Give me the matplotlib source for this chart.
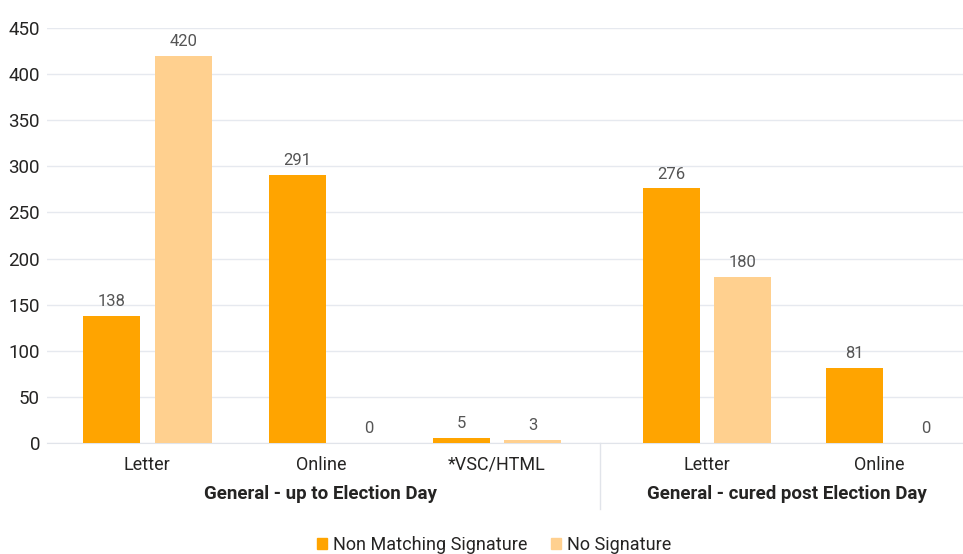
import matplotlib.pyplot as plt
import matplotlib.transforms as mtransforms
from matplotlib.patches import Patch

plt.rcParams['font.family'] = ['Roboto', 'DejaVu Sans']

# Data
categories = ["Letter", "Online", "*VSC/HTML", "Letter", "Online"]
groups = ["General - up to Election Day", "General - cured post Election Day"]
non_matching = [138, 291, 5, 276, 81]
no_signature = [420, 0, 3, 180, 0]
series_names = ["Non Matching Signature", "No Signature"]

# Layout (horizontal slots, roughly in pixel units of the original)
slot_x = [147.5, 333, 497, 707, 890]
label_x = [147, 321, 497, 707, 879]
group_x = [320, 787]
sep_x = 599.5
bar_w = 57
off = 35.8

c_dark = "#FFA400"
c_light = "#FFD08F"

fig = plt.figure(figsize=(9.63, 5.54), dpi=100)
ax = fig.add_axes([47 / 963, 111 / 554, 916 / 963, 415 / 554])
ax.set_xlim(47, 963)
ax.set_ylim(0, 450)

xd = [x - off for x in slot_x]
xl = [x + off for x in slot_x]
ax.bar(xd, non_matching, width=bar_w, color=c_dark, zorder=3)
ax.bar(xl, no_signature, width=bar_w, color=c_light, zorder=3)

for x, v in zip(xd + xl, non_matching + no_signature):
    ax.annotate(str(v), (x, v), xytext=(0, 5), textcoords="offset points",
                ha="center", va="bottom", fontsize=12, color="#555555")

# grid
ax.set_yticks(range(0, 451, 50))
ax.yaxis.grid(True, color="#E6E9EF", linewidth=1, zorder=0)
ax.tick_params(axis="y", length=0, labelsize=13.5, labelcolor="#252423", pad=5)
for s in ["top", "right", "left"]:
    ax.spines[s].set_visible(False)
ax.spines["bottom"].set_color("#E1E4EA")

ax.set_xticks(label_x)
ax.set_xticklabels(categories)
ax.tick_params(axis="x", length=0, labelsize=13, labelcolor="#252423", pad=9)

trans = mtransforms.blended_transform_factory(ax.transData, ax.transAxes)
for gx, g in zip(group_x, groups):
    ax.text(gx, -0.123, g, transform=trans, ha="center", va="center",
            fontsize=13.5, fontweight="bold", color="#252423")
ax.plot([sep_x, sep_x], [0, -0.16], transform=trans, color="#E1E4EA",
        linewidth=1, clip_on=False)

handles = [Patch(color=c_dark), Patch(color=c_light)]
fig.legend(handles, series_names, loc="center", bbox_to_anchor=(0.513, 9 / 554),
           ncol=2, frameon=False, fontsize=13, handlelength=0.55,
           handleheight=0.55, handletextpad=0.35, columnspacing=1.3,
           labelcolor="#252423")

fig.savefig("out.png", dpi=100)
